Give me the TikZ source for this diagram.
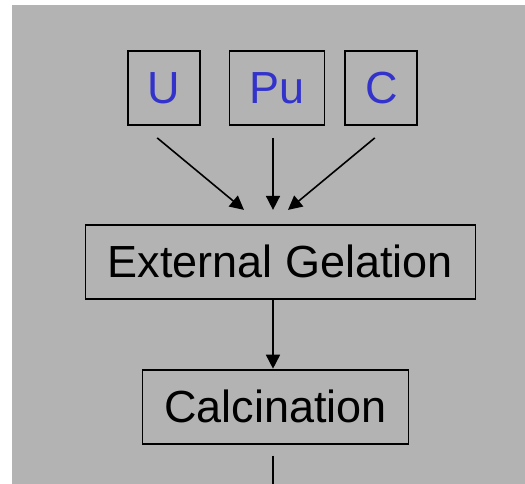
\documentclass[tikz,border=0pt]{standalone}
\usepackage{fontspec}
\setmainfont{Liberation Sans}
\usetikzlibrary{arrows.meta, positioning}
\definecolor{SlideGray}{RGB}{179, 179, 179}
\definecolor{ElemBlue}{RGB}{51, 51, 204}
\tikzset{
  box/.style={rectangle, draw=black, line width=1.8pt, minimum height=74pt,
              inner sep=0pt, font=\fontsize{45}{54}\selectfont, text=black, align=center},
  elem/.style={box, text=ElemBlue},
  arr/.style={-{Triangle[length=14pt, width=14pt]}, line width=1.6pt},
}
\begin{document}
\begin{tikzpicture}[x=1pt, y=1pt]
      \useasboundingbox (0,0) rectangle (525,-484);
      \fill[SlideGray] (12,-5) rectangle (525,-484);

      \node[elem, minimum width=95pt] (pu) at (277,-88) {Pu};
      \node[elem, minimum width=72pt, left=28pt of pu] (u) {U};
      \node[elem, minimum width=72pt, right=19pt of pu] (c) {C};

      \node[box, minimum width=390pt, below=98pt of pu, xshift=3.5pt] (gel)
           {External Gelation};
      \node[box, minimum width=266pt, below=69pt of gel, xshift=-5pt] (calc)
           {Calcination};
      \coordinate[below=40pt of calc.south, xshift=-2.5pt] (exit);

      \draw[arr] ([xshift=-6.5pt, yshift=-12pt]u.south)  -- ([xshift=-36.5pt, yshift=14pt]gel.north);
      \draw[arr] ([xshift=-4pt, yshift=-12pt]pu.south)   -- ([xshift=-7.5pt, yshift=14pt]gel.north);
      \draw[arr] ([xshift=-6.5pt, yshift=-12pt]c.south)  -- ([xshift=7.5pt, yshift=14pt]gel.north);
      \draw[arr] ([xshift=-7.5pt]gel.south) -- ([xshift=-2.5pt]calc.north);
      \draw[line width=1.6pt] ([xshift=-2.5pt, yshift=-11pt]calc.south) -- (exit);
    \end{tikzpicture}
\end{document}
